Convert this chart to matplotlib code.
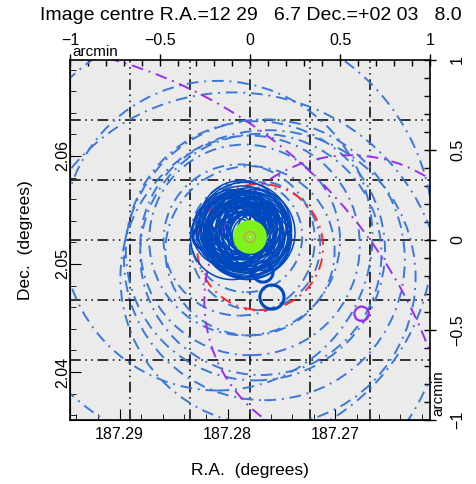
import numpy as np
import matplotlib.pyplot as plt
from matplotlib.patches import Circle
from matplotlib.ticker import MultipleLocator, FuncFormatter

plt.rcParams['font.family'] = ['Liberation Sans', 'DejaVu Sans']

# image centre (degrees)
ra0 = 187.27792
dec0 = 2.05222
cosd = np.cos(np.radians(dec0))

title = "Image centre R.A.=12 29   6.7 Dec.=+02 03   8.0"

# all positions / radii below in arcmin offsets from the image centre
# large dash-dot error circles (blue)
dd_x = [-0.18, -0.094, 0.10, -0.18, 0.03, 0.06, 0.00, 0.08, -0.03, 0.00, -0.06, 0.03, -0.02]
dd_y = [0.024, -0.35, -0.21, 0.024, -0.06, -0.08, -0.03, -0.11, 0.00, -0.06, 0.00, -0.03, 0.02]
dd_r = [1.20, 1.17, 0.82, 0.86, 0.72, 0.67, 0.61, 0.78, 0.53, 0.47, 0.42, 0.36, 0.31]

# purple dash-dot circles
pu_x = [-1.49, 0.556]
pu_y = [-1.556, -0.339]
pu_r = [2.66, 0.81]

# red dash-dot circle
red_x = [0.056]
red_y = [-0.039]
red_r = [0.35]

# dense cluster of solid dark blue circles
blob_x = [-0.03, -0.05, 0.00, -0.08, -0.02, 0.02, -0.06, -0.04, 0.01, -0.10,
          -0.07, -0.01, 0.03, -0.09, -0.05, 0.00, -0.03, -0.11, 0.04, -0.06,
          -0.02, -0.08, 0.01, -0.04, -0.07, 0.02, -0.12, -0.03, 0.05, -0.05,
          -0.01, -0.09, 0.00, -0.06, 0.03, -0.04, -0.10, -0.02, 0.01, -0.07,
          -0.05, 0.02, -0.08, -0.03, 0.00, -0.06, 0.04, -0.11, -0.01, -0.04,
          -0.09, 0.01, -0.05, -0.02, 0.03, -0.07, -0.03, 0.00, -0.08, -0.04]
blob_y = [0.03, 0.05, 0.02, 0.04, 0.08, 0.05, 0.00, 0.06, 0.00, 0.06,
          0.09, 0.11, 0.01, 0.02, 0.10, 0.07, -0.01, 0.04, 0.03, 0.07,
          0.04, 0.08, 0.06, 0.01, 0.03, 0.09, 0.05, 0.12, 0.00, 0.02,
          0.06, 0.07, 0.04, 0.10, 0.07, 0.03, 0.01, 0.05, 0.08, 0.05,
          0.00, 0.02, 0.09, 0.06, 0.05, 0.04, 0.05, 0.03, 0.02, 0.08,
          0.05, 0.03, 0.07, 0.00, 0.04, 0.02, 0.06, 0.09, 0.01, 0.04]
blob_r = [0.20, 0.22, 0.18, 0.17, 0.19, 0.21, 0.15, 0.24, 0.16, 0.14,
          0.18, 0.13, 0.20, 0.16, 0.23, 0.12, 0.17, 0.19, 0.15, 0.21,
          0.11, 0.18, 0.14, 0.22, 0.16, 0.19, 0.20, 0.15, 0.17, 0.13,
          0.10, 0.21, 0.25, 0.12, 0.14, 0.18, 0.23, 0.09, 0.16, 0.20,
          0.19, 0.12, 0.15, 0.08, 0.22, 0.17, 0.11, 0.13, 0.24, 0.18,
          0.16, 0.20, 0.14, 0.21, 0.19, 0.10, 0.26, 0.15, 0.17, 0.12]

# isolated solid dark blue circles
iso_x = [-0.25, 0.072, 0.122]
iso_y = [0.017, -0.178, -0.317]
iso_r = [0.067, 0.056, 0.067]

# small solid purple circle
spu_x, spu_y, spu_r = 0.62, -0.41, 0.04

# green source circles
gr_x, gr_y = 0.0, 0.017
gr_r = [0.085, 0.075, 0.065, 0.055, 0.045, 0.035, 0.025, 0.015]

fig = plt.figure(figsize=(4.77, 4.84), dpi=100)
ax = fig.add_axes([70/477, 1-420/484, 360/477, 360/484])
ax.set_facecolor('#ebebeb')
ax.set_xlim(-1, 1)
ax.set_ylim(-1, 1)

# grid every 20 arcsec
grid_ls = (0, (7, 3, 1, 3, 1, 3))
for g in [-2/3, -1/3, 0, 1/3, 2/3]:
    ax.axvline(g, color='k', lw=1.1, ls=grid_ls, zorder=1)
    ax.axhline(g, color='k', lw=1.1, ls=grid_ls, zorder=1)

dashdot = (0, (6, 3, 1, 3))
for x, y, r in zip(dd_x, dd_y, dd_r):
    ax.add_patch(Circle((x, y), r, fill=False, ec='#3b78d8', lw=1.4, ls=dashdot, zorder=2))
for x, y, r in zip(red_x, red_y, red_r):
    ax.add_patch(Circle((x, y), r, fill=False, ec='#ff2a2a', lw=1.4, ls=dashdot, zorder=2))
for x, y, r in zip(pu_x, pu_y, pu_r):
    ax.add_patch(Circle((x, y), r, fill=False, ec='#9a2cf0', lw=1.4, ls=dashdot, zorder=2))
ax.add_patch(Circle((spu_x, spu_y), spu_r, fill=False, ec='#9a2cf0', lw=1.6, zorder=3))

for x, y, r in zip(blob_x, blob_y, blob_r):
    ax.add_patch(Circle((x, y), r, fill=False, ec='#0048bd', lw=1.1, zorder=3))
for x, y, r in zip(iso_x, iso_y, iso_r):
    ax.add_patch(Circle((x, y), r, fill=False, ec='#0048bd', lw=2.2, zorder=3))

for r in gr_r:
    ax.add_patch(Circle((gr_x, gr_y), r, fill=False, ec='#7ff21c', lw=2.2, zorder=4))
ax.add_patch(Circle((gr_x, gr_y), 0.03, fill=False, ec='#c8a050', lw=1.0, zorder=5))

# arcmin axes (top, right)
fmt = FuncFormatter(lambda v, p: ('%g' % v).replace('-', '\u2212'))
ax.xaxis.set_ticks_position('top')
ax.yaxis.set_ticks_position('right')
ax.set_xticks([-1, -0.5, 0, 0.5, 1])
ax.set_yticks([-1, -0.5, 0, 0.5, 1])
ax.xaxis.set_minor_locator(MultipleLocator(0.1))
ax.yaxis.set_minor_locator(MultipleLocator(0.1))
ax.xaxis.set_major_formatter(fmt)
ax.yaxis.set_major_formatter(fmt)
ax.tick_params(which='major', direction='inout', length=9, width=1, labelsize=11.5)
ax.tick_params(axis='x', which='major', pad=4)
ax.tick_params(axis='y', which='major', pad=10, labelrotation=90)
ax.tick_params(which='minor', direction='in', length=4, width=1)
plt.setp(ax.get_yticklabels(), va='center')

# degree axes (bottom, left)
secx = ax.secondary_xaxis('bottom', functions=(lambda x: ra0 - x/(60*cosd),
                                               lambda ra: (ra0 - ra)*60*cosd))
secx.set_xticks([187.29, 187.28, 187.27])
secx.xaxis.set_minor_locator(MultipleLocator(0.002))
secx.xaxis.set_major_formatter(FuncFormatter(lambda v, p: '%.2f' % v))
secx.tick_params(which='major', direction='in', length=8, labelsize=11.5, pad=5)
secx.tick_params(which='minor', direction='in', length=4)
secx.set_xlabel('R.A.  (degrees)', fontsize=12.5, labelpad=15)

secy = ax.secondary_yaxis('left', functions=(lambda y: dec0 + y/60,
                                             lambda d: (d - dec0)*60))
secy.set_yticks([2.04, 2.05, 2.06])
secy.yaxis.set_minor_locator(MultipleLocator(0.002))
secy.yaxis.set_major_formatter(FuncFormatter(lambda v, p: '%.2f' % v))
secy.tick_params(which='major', direction='in', length=8, labelsize=11.5, pad=0, labelrotation=90)
secy.tick_params(which='minor', direction='in', length=4)
plt.setp(secy.get_yticklabels(), va='center')
secy.set_ylabel('Dec.  (degrees)', fontsize=12.5, labelpad=16)

for s in ax.spines.values():
    s.set_linewidth(1.2)

ax.text(0.006, 1.004, 'arcmin', transform=ax.transAxes, fontsize=11, va='bottom', ha='left')
ax.text(1.003, 0.01, 'arcmin', transform=ax.transAxes, fontsize=11, va='bottom', ha='left',
        rotation=90)

fig.text(251/477, 1-15/484, title, fontsize=14, ha='center', va='center')

fig.savefig('out.png', dpi=100)
